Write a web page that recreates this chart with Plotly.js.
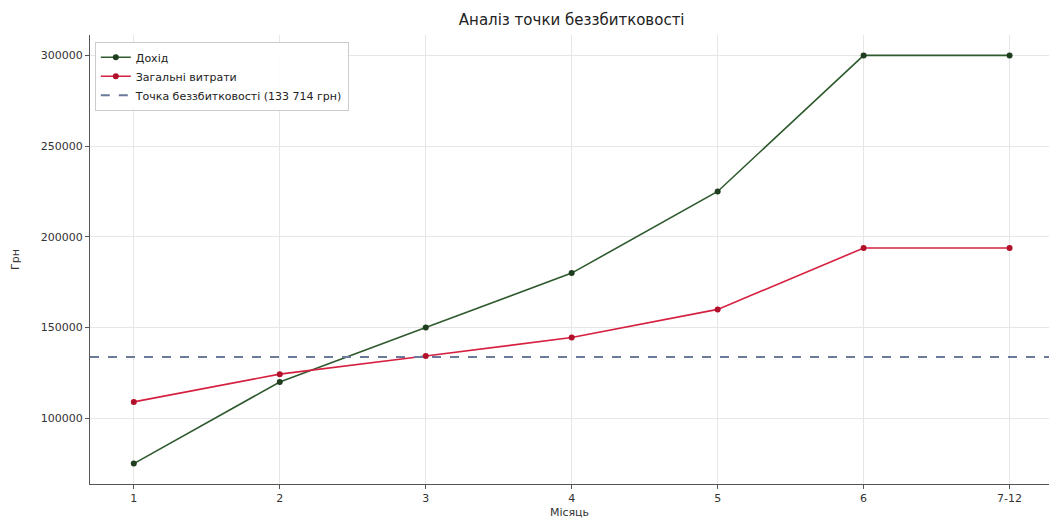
<!DOCTYPE html>
<html>
<head>
<meta charset="utf-8">
<script src="https://cdn.plot.ly/plotly-3.0.1.min.js"></script>
<style>html,body{margin:0;padding:0;background:#fff;}#chart{width:1049px;height:524px;}</style>
</head>
<body>
<div id="chart"></div>
<script>
const months = ["1", "2", "3", "4", "5", "6", "7-12"];
const revenue = [75000, 120000, 150000, 180000, 225000, 300000, 300000];
const totalCosts = [109000, 124300, 134300, 144500, 160000, 193800, 193800];
const breakEven = 133714;
const revenueName = "Дохід";
const costsName = "Загальні витрати";
const breakEvenName = "Точка беззбитковості (133 714 грн)";

const xIdx = months.map((_, i) => i);

const traces = [
  {
    x: xIdx, y: revenue, name: revenueName, type: "scatter", mode: "lines+markers",
    line: {color: "#2e5a2e", width: 1.6},
    marker: {color: "#1f3d1f", size: 6}
  },
  {
    x: xIdx, y: totalCosts, name: costsName, type: "scatter", mode: "lines+markers",
    line: {color: "#d62040", width: 1.6},
    marker: {color: "#b0102a", size: 6}
  },
  {
    x: [-0.3, 6.3], y: [breakEven, breakEven], name: breakEvenName, type: "scatter", mode: "lines",
    line: {color: "#6a7a98", width: 2, dash: "dash"}
  }
];

const layout = {
  width: 1049, height: 524,
  margin: {l: 90, r: 0, t: 35, b: 40},
  paper_bgcolor: "#fff", plot_bgcolor: "#fff",
  font: {family: "DejaVu Sans, sans-serif", size: 11, color: "#333"},
  title: {text: "Аналіз точки беззбитковості", font: {size: 15, color: "#222"}, x: 0.545, xanchor: "center", y: 0.962, yanchor: "middle"},
  showlegend: true,
  legend: {x: 0.005, y: 0.985, xanchor: "left", yanchor: "top", bgcolor: "rgba(255,255,255,0.9)", bordercolor: "#cccccc", borderwidth: 1, font: {size: 11, color: "#222"}, tracegroupgap: 0, itemwidth: 30},
  xaxis: {
    range: [-0.3, 6.27],
    tickmode: "array", tickvals: xIdx, ticktext: months,
    showgrid: true, gridcolor: "#e6e6e6", gridwidth: 1,
    zeroline: false, showline: true, linecolor: "#555", linewidth: 1,
    ticks: "outside", ticklen: 4, tickcolor: "#555",
    title: {text: "Місяць", font: {size: 11, color: "#333"}, standoff: 4}
  },
  yaxis: {
    range: [63750, 311250],
    tickmode: "array", tickvals: [100000, 150000, 200000, 250000, 300000],
    ticktext: ["100000", "150000", "200000", "250000", "300000"],
    showgrid: true, gridcolor: "#e6e6e6", gridwidth: 1,
    zeroline: false, showline: true, linecolor: "#555", linewidth: 1,
    ticks: "outside", ticklen: 4, tickcolor: "#555",
    title: {text: "Грн", font: {size: 11, color: "#333"}, standoff: 18}
  }
};

Plotly.newPlot("chart", traces, layout, {displayModeBar: false, staticPlot: true});
</script>
</body>
</html>
